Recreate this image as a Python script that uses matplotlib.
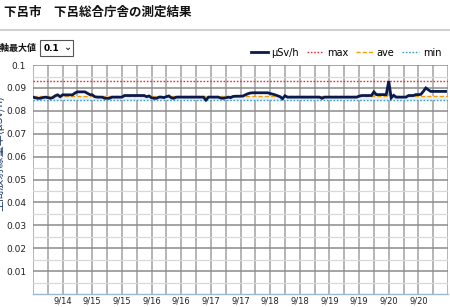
import numpy as np
import matplotlib
matplotlib.use("Agg")
import matplotlib.pyplot as plt

plt.rcParams['font.family'] = ['Noto Sans CJK JP', 'DejaVu Sans']

# hourly readings from 9/14 0:00 (uSv/h)
usvh = [
    0.0860, 0.0857, 0.0855, 0.0855, 0.0858, 0.0860, 0.0858, 0.0855, 0.0858, 0.0866, 0.0870, 0.0862,
    0.0870, 0.0870, 0.0870, 0.0870, 0.0870, 0.0878, 0.0883, 0.0883, 0.0883, 0.0883, 0.0877, 0.0871,
    0.0870, 0.0862, 0.0860, 0.0860, 0.0860, 0.0855, 0.0855, 0.0855, 0.0860, 0.0860, 0.0860, 0.0860,
    0.0860, 0.0867, 0.0867, 0.0867, 0.0867, 0.0867, 0.0867, 0.0867, 0.0867, 0.0867, 0.0862, 0.0865,
    0.0857, 0.0855, 0.0855, 0.0860, 0.0860, 0.0858, 0.0862, 0.0865, 0.0857, 0.0855, 0.0860, 0.0860,
    0.0860, 0.0860, 0.0860, 0.0860, 0.0860, 0.0860, 0.0860, 0.0860, 0.0860, 0.0860, 0.0847, 0.0860,
    0.0860, 0.0860, 0.0860, 0.0860, 0.0856, 0.0855, 0.0857, 0.0860, 0.0858, 0.0863, 0.0864, 0.0864,
    0.0864, 0.0865, 0.0870, 0.0875, 0.0878, 0.0879, 0.0879, 0.0879, 0.0879, 0.0879, 0.0879, 0.0879,
    0.0876, 0.0873, 0.0870, 0.0866, 0.0862, 0.0853, 0.0866, 0.0860, 0.0860, 0.0860, 0.0860, 0.0860,
    0.0860, 0.0860, 0.0860, 0.0860, 0.0860, 0.0860, 0.0860, 0.0860, 0.0860, 0.0855, 0.0860, 0.0860,
    0.0860, 0.0860, 0.0860, 0.0860, 0.0860, 0.0860, 0.0860, 0.0860, 0.0860, 0.0860, 0.0860, 0.0860,
    0.0864, 0.0867, 0.0867, 0.0867, 0.0867, 0.0867, 0.0883, 0.0871, 0.0871, 0.0871, 0.0871, 0.0871,
    0.0930, 0.0857, 0.0868, 0.0860, 0.0860, 0.0860, 0.0860, 0.0860, 0.0867, 0.0867, 0.0867, 0.0871,
    0.0871, 0.0872, 0.0885, 0.0900, 0.0892, 0.0885, 0.0885, 0.0885, 0.0885, 0.0885, 0.0885, 0.0885,
]
v_max = 0.0932
v_ave = 0.0864
v_min = 0.0846

x_labels = ['9/14', '9/15', '9/15', '9/16', '9/16', '9/17', '9/17',
            '9/18', '9/18', '9/19', '9/19', '9/20', '9/20']
y_ticks = [0.01, 0.02, 0.03, 0.04, 0.05, 0.06, 0.07, 0.08, 0.09, 0.1]

hours = np.arange(len(usvh))

fig = plt.figure(figsize=(4.5, 3.07), dpi=100)
ax = fig.add_axes([0.0733, 0.0423, 0.9223, 0.7457])

ax.set_xlim(0, 168)
ax.set_ylim(0, 0.1)

# grid: vertical every 6h, horizontal 0.01 major / 0.005 minor
ax.set_xticks(np.arange(0, 169, 6))
lbls = [''] * 29
for i, t in enumerate(x_labels):
    lbls[2 + 2 * i] = t
ax.set_xticklabels(lbls, fontsize=6, color='#222222', family=['DejaVu Sans'])
ax.set_yticks(y_ticks)
ax.set_yticklabels([('%g' % v) for v in y_ticks], fontsize=6.5, color='#222222',
                   family=['DejaVu Sans'])
ax.set_yticks(np.arange(0.005, 0.1, 0.01), minor=True)
ax.tick_params(which='both', length=0)
ax.tick_params(axis='x', pad=1.5)
ax.tick_params(axis='y', pad=5)
ax.grid(True, which='major', axis='x', color='#b4b4b4', lw=1.4)
ax.grid(True, which='major', axis='y', color='#8c8c8c', lw=1.1)
ax.grid(True, which='minor', axis='y', color='#d8d8d8', lw=0.9)
ax.set_axisbelow(True)
for s in ['top', 'right', 'left']:
    ax.spines[s].set_visible(False)
ax.spines['bottom'].set_color('#9cb8d0')
ax.spines['bottom'].set_linewidth(1.0)

ax.fill_between([0, 168], v_min, v_ave, color='#e4eef6', lw=0, zorder=1)
ax.axhline(v_max, color='#e0303a', ls=(0, (1.2, 1.2)), lw=1.0, zorder=2)
ax.axhline(v_ave, color='#f0a000', ls=(0, (3, 1.5)), lw=1.0, zorder=2)
ax.axhline(v_min, color='#3aa0d0', ls=(0, (1.2, 1.2)), lw=1.0, zorder=2)
ax.plot(hours, usvh, color='#0b1a4c', lw=2.0, zorder=3, solid_joinstyle='miter')

# legend
h1, = ax.plot([], [], color='#0b1a4c', lw=2.0)
h2, = ax.plot([], [], color='#e0303a', ls=(0, (1.2, 1.2)), lw=1.0)
h3, = ax.plot([], [], color='#f0a000', ls=(0, (3, 1.5)), lw=1.0)
h4, = ax.plot([], [], color='#3aa0d0', ls=(0, (1.2, 1.2)), lw=1.0)
fig.legend([h1, h2, h3, h4], ['μSv/h', 'max', 'ave', 'min'], ncol=4, frameon=False,
           loc='center right', bbox_to_anchor=(1.0, 0.828),
           handlelength=1.7, handletextpad=0.4, columnspacing=0.8,
           prop={'family': ['DejaVu Sans'], 'size': 7})

# header
fig.text(0.008, 0.961, '下呂市　下呂総合庁舎の測定結果', fontsize=9, fontweight='bold',
         va='center', ha='left', color='#111111')
fig.add_artist(plt.Line2D([0, 1], [0.903, 0.903], transform=fig.transFigure,
                          color='#d0d0d0', lw=1.5))
fig.text(0.083, 0.843, '縦軸最大値', fontsize=6.5, fontweight='bold', va='center',
         ha='right', color='#111111')
box = plt.Rectangle((0.089, 0.818), 0.073, 0.052, transform=fig.transFigure,
                    facecolor='white', edgecolor='#555555', lw=0.8)
fig.add_artist(box)
fig.text(0.098, 0.843, '0.1', fontsize=6.5, fontweight='bold', va='center', ha='left',
         family=['DejaVu Sans'])
fig.text(0.152, 0.846, '⌄', fontsize=7, va='center', ha='center', family=['DejaVu Sans'])

# cut-off axis title on the far left
fig.text(-0.004, 0.5, '空間放射線量率(μSv/h)', fontsize=8, rotation=90, va='center',
         ha='center', color='#1a3a6a')

fig.savefig('out.png', dpi=100)
